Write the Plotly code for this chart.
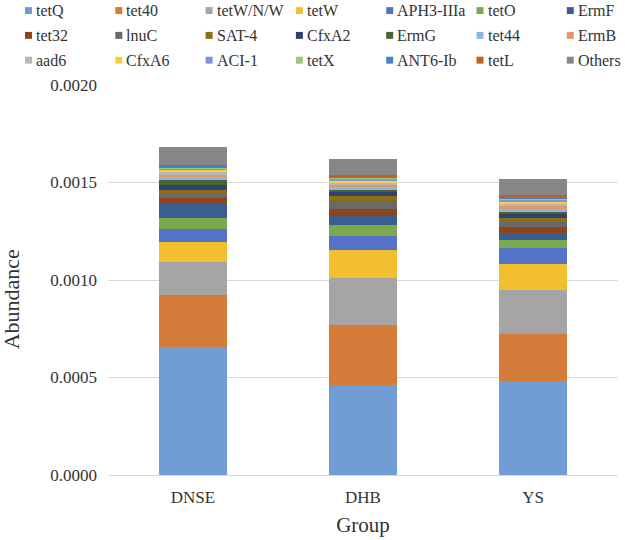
import plotly.graph_objects as go

# groups on the x axis
groups = ["DNSE", "DHB", "YS"]

# genes, stacked bottom -> top
genes = ["tetQ", "tet40", "tetW/N/W", "tetW", "APH3-IIIa", "tetO", "ErmF",
         "tet32", "lnuC", "SAT-4", "CfxA2", "ErmG", "tet44", "ErmB",
         "aad6", "CfxA6", "ACI-1", "tetX", "ANT6-Ib", "tetL", "Others"]

# abundance per gene (same order as genes)
dnse = [0.000656, 0.000268, 0.000170, 0.000102, 0.000065, 0.000059, 0.000071,
        0.000027, 0.000025, 0.000020, 0.000025, 0.000025, 0.000015, 0.000015,
        0.000010, 0.000013, 0.000008, 0.000005, 0.000007, 0.000004, 0.000090]
dhb = [0.000460, 0.000308, 0.000241, 0.000146, 0.000071, 0.000058, 0.000044,
       0.000038, 0.000039, 0.000025, 0.000020, 0.000014, 0.000012, 0.000014,
       0.000010, 0.000010, 0.000008, 0.000008, 0.000007, 0.000005, 0.000080]
ys = [0.000480, 0.000244, 0.000224, 0.000134, 0.000081, 0.000042, 0.000038,
      0.000031, 0.000023, 0.000022, 0.000017, 0.000012, 0.000017, 0.000013,
      0.000011, 0.000013, 0.000009, 0.000008, 0.000008, 0.000008, 0.000085]

colors = ["#709DD4", "#D67C3A", "#A5A5A5", "#F2C02E", "#5573C6", "#7AAA4D",
          "#3A5E91", "#8F451A", "#696969", "#8C6E14", "#2D4173", "#486432",
          "#8FB4E0", "#E4986A", "#B7B7B7", "#F7CF45", "#7A96D6", "#9CC67C",
          "#4A80C6", "#C2601E", "#878787"]

FONT = "Liberation Serif, Times New Roman, serif"
TXT = "#333333"

fig = go.Figure()
for i, g in enumerate(genes):
    fig.add_trace(go.Bar(
        name=g,
        x=groups,
        y=[dnse[i], dhb[i], ys[i]],
        marker=dict(color=colors[i], line=dict(width=0)),
        showlegend=False,
    ))

# legend drawn by hand: 7 columns x 3 rows, like the original
W, H = 625, 540
L, R, T, B = 108, 7, 85, 62
pw, ph = W - L - R, H - T - B


def px_x(x):
    return (x - L) / pw


def px_y(y):
    return (H - B - y) / ph


for i, g in enumerate(genes):
    row, col = divmod(i, 7)
    x0 = 25 + 90.3 * col
    yc = 10 + 25 * row
    fig.add_shape(type="rect", xref="paper", yref="paper",
                  x0=px_x(x0), x1=px_x(x0 + 7),
                  y0=px_y(yc + 3.5), y1=px_y(yc - 3.5),
                  fillcolor=colors[i], line=dict(width=0))
    fig.add_annotation(xref="paper", yref="paper", x=px_x(x0 + 9), y=px_y(yc),
                       text=g, showarrow=False, xanchor="left", yanchor="middle",
                       font=dict(family=FONT, size=16, color=TXT))

# y axis title sits a bit below the middle in the original
fig.add_annotation(xref="paper", yref="paper", x=px_x(11), y=px_y(301),
                   text="Abundance", textangle=-90, showarrow=False,
                   xanchor="center", yanchor="middle",
                   font=dict(family=FONT, size=22, color=TXT))

fig.update_layout(
    width=W, height=H,
    barmode="stack",
    bargap=0.6,
    plot_bgcolor="white",
    paper_bgcolor="white",
    margin=dict(l=L, r=R, t=T, b=B),
    font=dict(family=FONT, color=TXT),
    xaxis=dict(
        title=dict(text="Group", font=dict(size=21, color=TXT), standoff=11),
        tickfont=dict(size=17, color=TXT),
        ticklabelstandoff=10,
        showline=False,
        showgrid=False,
    ),
    yaxis=dict(
        range=[0, 0.002],
        tickvals=[0, 0.0005, 0.001, 0.0015, 0.002],
        tickformat=".4f",
        tickfont=dict(size=17, color=TXT),
        ticklabelstandoff=10,
        showgrid=True,
        gridcolor="#D9D9D9",
        gridwidth=1.3,
        zeroline=True,
        zerolinecolor="#D9D9D9",
        zerolinewidth=1.3,
        showline=False,
    ),
)

# the page's default body margin would shift the figure by 8px
fig.write_html("out.html", config={"displayModeBar": False},
               post_script="document.body.style.margin='0';")
